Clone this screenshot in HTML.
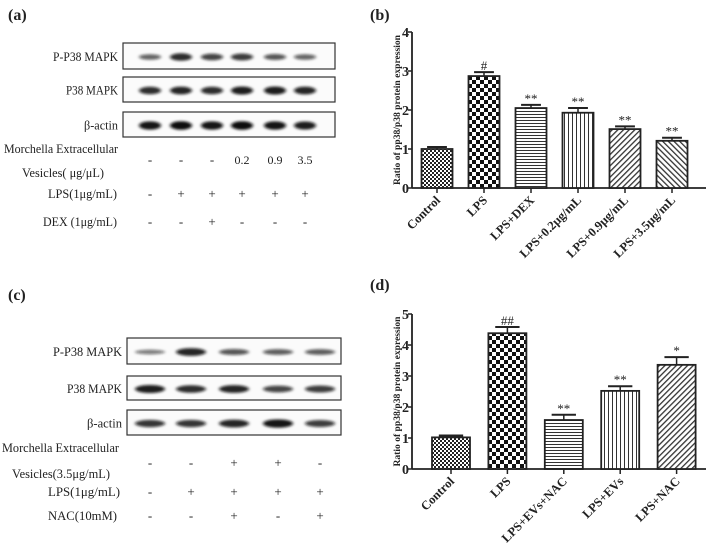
<!DOCTYPE html>
<html><head><meta charset="utf-8"><style>
html,body{margin:0;padding:0;background:#fff;}
svg{display:block;font-family:"Liberation Serif",serif;}
</style></head><body>
<svg id="fig" width="708" height="544" viewBox="0 0 708 544" xmlns="http://www.w3.org/2000/svg">
<defs>
<filter id="blur" x="-20%" y="-100%" width="140%" height="300%"><feGaussianBlur stdDeviation="1.6 1.2"/></filter>
<pattern id="pCheckS" width="4" height="4" patternUnits="userSpaceOnUse"><rect width="4" height="4" fill="#fff"/><rect width="2" height="2" fill="#222"/><rect x="2" y="2" width="2" height="2" fill="#222"/></pattern>
<pattern id="pCheckL" width="8" height="8" patternUnits="userSpaceOnUse"><rect width="8" height="8" fill="#fff"/><rect width="4" height="4" fill="#111"/><rect x="4" y="4" width="4" height="4" fill="#111"/></pattern>
<pattern id="pHoriz" width="4" height="3" patternUnits="userSpaceOnUse"><rect width="4" height="3" fill="#fff"/><rect width="4" height="1" fill="#333"/></pattern>
<pattern id="pVert" width="4" height="4" patternUnits="userSpaceOnUse"><rect width="4" height="4" fill="#fff"/><rect width="1" height="4" fill="#333"/></pattern>
<pattern id="pDiagF" width="4" height="4" patternUnits="userSpaceOnUse" patternTransform="rotate(45)"><rect width="4" height="4" fill="#fff"/><rect width="1.3" height="4" fill="#333"/></pattern>
<pattern id="pDiagB" width="4" height="4" patternUnits="userSpaceOnUse" patternTransform="rotate(-45)"><rect width="4" height="4" fill="#fff"/><rect width="1.3" height="4" fill="#333"/></pattern>
</defs>
<g id="root"></g>
</svg>
<script>
// ---- Chart (b) data ----
const catsB = ["Control","LPS","LPS+DEX","LPS+0.2μg/mL","LPS+0.9μg/mL","LPS+3.5μg/mL"];
const valsB = [1.0, 2.87, 2.05, 1.93, 1.51, 1.21];
const errsB = [0.05, 0.10, 0.08, 0.12, 0.07, 0.08];
const sigB = ["", "#", "**", "**", "**", "**"];
const ticksB = [0,1,2,3,4];
// ---- Chart (d) data ----
const catsD = ["Control","LPS","LPS+EVs+NAC","LPS+EVs","LPS+NAC"];
const valsD = [1.02, 4.38, 1.58, 2.52, 3.36];
const errsD = [0.06, 0.20, 0.17, 0.15, 0.25];
const sigD = ["", "##", "**", "**", "*"];
const ticksD = [0,1,2,3,4,5];
// ---- Blot band intensities (0-1) ----
const blotA = [[0.45,0.8,0.65,0.7,0.55,0.45],[0.8,0.85,0.8,0.9,0.9,0.85],[0.95,1,0.95,1,0.95,0.9]];
const blotC = [[0.3,0.85,0.55,0.5,0.5],[0.9,0.8,0.85,0.65,0.7],[0.75,0.75,0.85,0.95,0.7]];

const NS="http://www.w3.org/2000/svg";
const root=document.getElementById('root');
function el(tag,attrs,parent){const e=document.createElementNS(NS,tag);for(const k in attrs)e.setAttribute(k,attrs[k]);(parent||root).appendChild(e);return e;}
function txt(x,y,s,attrs,parent){const t=el('text',Object.assign({x:x,y:y,'font-size':13,fill:'#222'},attrs||{}),parent);t.textContent=s;return t;}

// panel letters
[["(a)",8,20],["(b)",370,20],["(c)",8,300],["(d)",370,290]].forEach(p=>{
  const t=txt(p[1],p[2],p[0],{'font-size':16,'font-weight':'bold'});
  
  
});

function blot(cfg){
  const g=el('g',{});
  
  
  cfg.boxes.forEach((b,i)=>{
    const r=el('rect',{x:cfg.x0,y:b[0],width:cfg.x1-cfg.x0,height:b[1]-b[0],fill:'#fbfbfb',stroke:'#333','stroke-width':1.2},g);
    
    
    const cy=(b[0]+b[1])/2;
    cfg.lanes.forEach((lx,j)=>{
      const v=cfg.data[i][j];
      const e=el('ellipse',{cx:lx,cy:cy+1,rx:cfg.bw,ry:1.5+v*2.8,fill:'#111','fill-opacity':(0.35+v*0.65),filter:'url(#blur)'},g);
      
      
    });
    const t=txt(cfg.x0-5,cy+5,cfg.labels[i][0],{'text-anchor':'end',textLength:cfg.labels[i][1],lengthAdjust:'spacingAndGlyphs'},g);
    
    
  });
  cfg.rows.forEach(r=>{
    if(r.label){r.label.forEach(l=>{const t=txt(l[0],l[1],l[2],{textLength:l[3],lengthAdjust:'spacingAndGlyphs'},g);});}
    r.vals.forEach((v,j)=>{const t=txt(cfg.lanes[j],r.y,v,{'text-anchor':'middle','font-size':v.length>1?12:13},g);});
  });
}
blot({name:'western-blot-a',x0:123,x1:335,boxes:[[43,69],[77,102],[112,137]],lanes:[150,181,212,242,275,305],bw:11,data:blotA,
  labels:[["P-P38 MAPK",65],["P38 MAPK",52],["β-actin",34]],
  rows:[{y:164,vals:["-","-","-","0.2","0.9","3.5"],label:[[4,153,"Morchella Extracellular",114],[22,177,"Vesicles( μg/μL)",82]]},
        {y:198,vals:["-","+","+","+","+","+"],label:[[48,198,"LPS(1μg/mL)",69]]},
        {y:226,vals:["-","-","+","-","-","-"],label:[[43,226,"DEX (1μg/mL)",74]]}]});
blot({name:'western-blot-c',x0:127,x1:341,boxes:[[338,364],[376,400],[410,435]],lanes:[150,191,234,278,320],bw:15,data:blotC,
  labels:[["P-P38 MAPK",69],["P38 MAPK",55],["β-actin",35]],
  rows:[{y:467,vals:["-","-","+","+","-"],label:[[2,452,"Morchella Extracellular",117],[12,478,"Vesicles(3.5μg/mL)",98]]},
        {y:496,vals:["-","+","+","+","+"],label:[[48,496,"LPS(1μg/mL)",72]]},
        {y:520,vals:["-","-","+","-","+"],label:[[48,520,"NAC(10mM)",69]]}]});

function barChart(cfg){
  const g=el('g',{});
  
  
  const ymax=cfg.ticks[cfg.ticks.length-1];
  const yS=v=>cfg.y0-(v/ymax)*(cfg.y0-cfg.yTop);
  const xS=i=>cfg.firstC+i*cfg.step;
  const ya=el('line',{x1:cfg.xAxis,y1:cfg.yTop,x2:cfg.xAxis,y2:cfg.y0,stroke:'#222','stroke-width':1.8},g);
  
  const xa=el('line',{x1:cfg.xAxis,y1:cfg.y0,x2:cfg.xEnd,y2:cfg.y0,stroke:'#222','stroke-width':1.8},g);
  
  cfg.ticks.forEach(t=>{
    el('line',{x1:cfg.xAxis-4,y1:yS(t),x2:cfg.xAxis,y2:yS(t),stroke:'#222','stroke-width':1.5},g);
    const l=txt(cfg.xAxis-3,yS(t)+5,String(t),{'text-anchor':'end','font-weight':'bold','font-size':14},g);
    
  });
  const yl=txt(0,0,"Ratio of pp38/p38 protein expression",{'text-anchor':'middle','font-weight':'bold','font-size':9.5,textLength:cfg.titleLen,lengthAdjust:'spacingAndGlyphs',transform:`translate(${cfg.xAxis-12},${(cfg.yTop+cfg.y0)/2}) rotate(-90)`},g);
  
  cfg.cats.forEach((c,i)=>{
    const cx=xS(i),v=cfg.vals[i],e=cfg.errs[i];
    const top=yS(v+e);
    el('line',{x1:cx,y1:top,x2:cx,y2:yS(v),stroke:'#222','stroke-width':1.5},g);
    el('line',{x1:cx-cfg.bw*0.32,y1:top,x2:cx+cfg.bw*0.32,y2:top,stroke:'#222','stroke-width':2},g);
    const b=el('rect',{x:cx-cfg.bw/2,y:yS(v),width:cfg.bw,height:cfg.y0-yS(v),fill:`url(#${cfg.fills[i]})`,stroke:'#222','stroke-width':1.8},g);
    
    
    if(cfg.sig[i]){const s=txt(cx,top-2,cfg.sig[i],{'text-anchor':'middle','font-size':13},g);}
    el('line',{x1:cx,y1:cfg.y0,x2:cx,y2:cfg.y0+5,stroke:'#222','stroke-width':1.5},g);
    const cl=txt(0,0,c,{'text-anchor':'end','font-weight':'bold','font-size':12.5,transform:`translate(${cx+4},${cfg.y0+13}) rotate(-45)`},g);
    
  });
}
barChart({name:'bar-chart-b',cats:catsB,vals:valsB,errs:errsB,sig:sigB,ticks:ticksB,xAxis:412,xEnd:706,y0:188,yTop:32,firstC:437,step:47,bw:31,titleLen:150,
  fills:['pCheckS','pCheckL','pHoriz','pVert','pDiagF','pDiagB']});
barChart({name:'bar-chart-d',cats:catsD,vals:valsD,errs:errsD,sig:sigD,ticks:ticksD,xAxis:412,xEnd:706,y0:469,yTop:314,firstC:451,step:56.4,bw:38,titleLen:150,
  fills:['pCheckS','pCheckL','pHoriz','pVert','pDiagF']});
</script>
</body></html>
